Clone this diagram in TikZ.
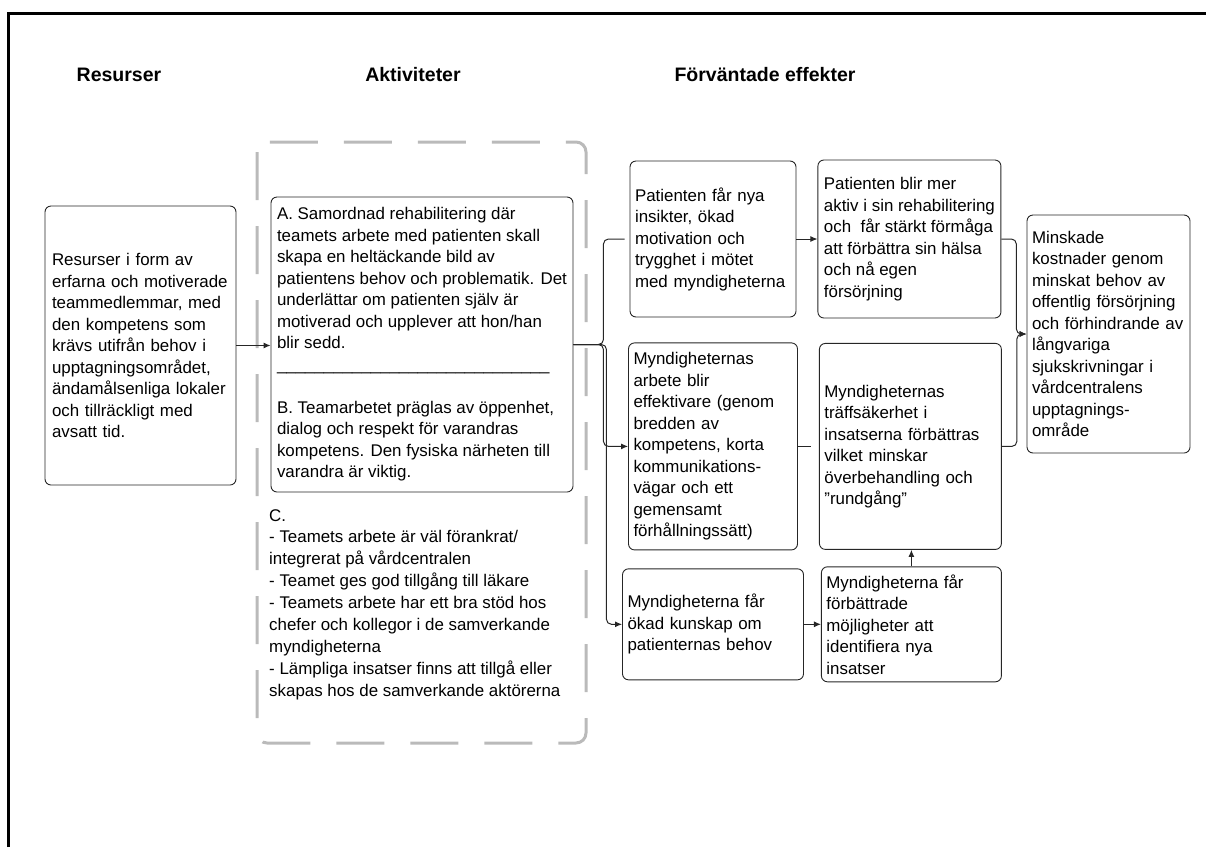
\documentclass[tikz,border=0pt]{standalone}
\usepackage{fontspec}
\setmainfont{Liberation Sans}
\usetikzlibrary{positioning,calc,arrows.meta}

\tikzset{
		basic/.style     = {draw=black!85, line width=0.9pt, rectangle, rounded corners=6pt, align=left, inner ysep=4pt, font=\fontsize{16.9}{21.5}\selectfont},
		resurs/.style    = {basic, inner xsep=7pt, text width=177pt, minimum height=279pt},
		aktivitet/.style = {basic, minimum width=302pt, minimum height=295pt},
		effekt/.style    = {basic, inner xsep=5pt},
		rubrik/.style    = {font=\fontsize{19.5}{23}\selectfont\bfseries},
		ram/.style       = {draw=black!27, line width=3pt, rounded corners=10pt, dash pattern=on 48pt off 26pt},
		linje/.style     = {draw=black!85, line width=1pt, rounded corners=5pt}
	}

\begin{document}
\begin{tikzpicture}[
		x=1pt, y=-1pt,
		>={Latex[length=7pt,width=6pt]}]
		
		\useasboundingbox (0,0) rectangle (1206,847);
		% outer frame, only top and left edge are on the page
		\draw[line width=2.7pt] (8.4,847) -- (8.4,13.3) -- (1206,13.3);
		
		% headings of the three columns
		\node[rubrik] (hres) at (119,75) {Resurser};
		\node[rubrik] (hakt) at (413,75) {Aktiviteter};
		\node[rubrik] (heff) at (765,75) {Förväntade effekter};
		
		% dashed frame round the activities
		\draw[ram] (257,142) rectangle (586,743);
		
		% resources and activities
		\node[resurs] (res) at (140.5,345.5) {Resurser i form av\\ erfarna och motiverade\\ teammedlemmar, med\\ den kompetens som\\ krävs utifrån behov i\\ upptagningsområdet,\\ ändamålsenliga lokaler\\ och tillräckligt med\\ avsatt tid.};
		\node[aktivitet] (akt) at (422,344.5) {A. Samordnad rehabilitering där\\ teamets arbete med patienten skall\\ skapa en heltäckande bild av\\ patientens behov och problematik. Det\\ underlättar om patienten själv är\\ motiverad och upplever att hon/han\\ blir sedd.\\ \_\_\_\_\_\_\_\_\_\_\_\_\_\_\_\_\_\_\_\_\_\_\_\_\_\_\_\_\_\\ \mbox{}\\ B. Teamarbetet präglas av öppenhet,\\ dialog och respekt för varandras\\ kompetens. Den fysiska närheten till\\ varandra är viktig.};
		\node[align=left, inner sep=0pt, anchor=north west, font=\fontsize{16.9}{21.9}\selectfont] (aktC) at (269,509) {C.\\ - Teamets arbete är väl förankrat/\\ integrerat på vårdcentralen\\ - Teamet ges god tillgång till läkare\\ - Teamets arbete har ett bra stöd hos\\ chefer och kollegor i de samverkande\\ myndigheterna\\ - Lämpliga insatser finns att tillgå eller\\ skapas hos de samverkande aktörerna};
		
		% expected effects, relatively positioned
		\begin{scope}[every node/.style={effekt}]
		\node[text width=156pt, minimum height=156pt] (pat1) at (713,239) {Patienten får nya\\ insikter, ökad\\ motivation och\\ trygghet i mötet\\ med myndigheterna};
		\node[minimum width=183pt, minimum height=158pt, right=21pt of pat1] (pat2) {Patienten blir mer\\ aktiv i sin rehabilitering\\ och \ får stärkt förmåga\\ att förbättra sin hälsa\\ och nå egen\\ försörjning};
		\node[text width=159pt, minimum height=207pt, below=25pt of pat1] (myn1) {Myndigheternas\\ arbete blir\\ effektivare (genom\\ bredden av\\ kompetens, korta\\ kommunikations-\\ vägar och ett\\ gemensamt\\ förhållningssätt)};
		\node[text width=172pt, minimum height=206pt, right=21pt of myn1] (myn2) {Myndigheternas\\ träffsäkerhet i\\ insatserna förbättras\\ vilket minskar\\ överbehandling och\\ ”rundgång”};
		\node[text width=171pt, minimum height=111pt, below=18pt of myn1] (myn3) {Myndigheterna får\\ ökad kunskap om\\ patienternas behov};
		\node[text width=170pt, minimum height=115pt, right=17pt of myn3] (myn4) {Myndigheterna får\\ förbättrade\\ möjligheter att\\ identifiera nya\\ insatser};
		\node[text width=153pt, minimum height=238pt] (eff) at (1108.5,334) {Minskade\\ kostnader genom\\ minskat behov av\\ offentlig försörjning\\ och förhindrande av\\ långvariga\\ sjukskrivningar i\\ vårdcentralens\\ upptagnings-\\ område};
		\end{scope}
		
		% connectors
		\draw[linje,->] (res.east) -- (res.east -| akt.west);
		
		\coordinate (gren) at ($(akt.east)+(30pt,0pt)$);
		\draw[linje,shorten >=5pt] (akt.east) -- (gren) |- (pat1.west);
		\foreach \mal/\dx in {myn1/0pt,myn3/3pt}
		\draw[linje,->] (akt.east) -- ([xshift=\dx]gren) |- (\mal.west);
		
		\draw[linje,->] (pat1) -- (pat2);
		\draw[linje,shorten >=8pt] (myn1) -- (myn2);
		\draw[linje,->] (myn3) -- (myn4);
		\draw[linje,->] (myn4.north) -- (myn4.north |- myn2.south);
		
		\foreach \kalla in {pat2,myn2}
		\draw[linje,->] (\kalla.east) -- ++(15pt,0pt) |- (eff.west);
		
\end{tikzpicture}
\end{document}
